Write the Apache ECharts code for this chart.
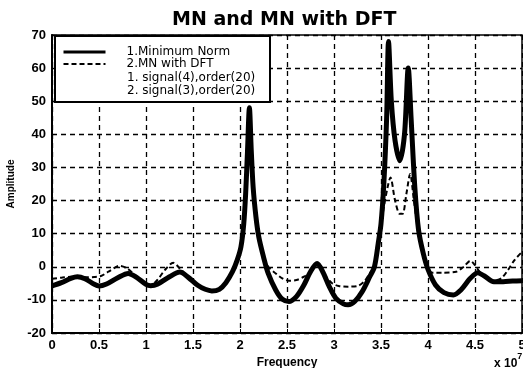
<!DOCTYPE html>
<html>
<head>
<meta charset="utf-8">
<script src="https://cdn.jsdelivr.net/npm/echarts@6/dist/echarts.min.js"></script>
<style>
  html, body { margin: 0; padding: 0; background: #fff; }
  #main { width: 523px; height: 368px; }
</style>
</head>
<body>
<div id="main"></div>
<script>
// frequency in units of 1e7
const mnFreq = [0, 0.1, 0.2, 0.27, 0.35, 0.45, 0.5, 0.58, 0.7, 0.81, 0.9, 1.0, 1.05, 1.12, 1.25, 1.36, 1.45, 1.55, 1.63, 1.7, 1.78, 1.85, 1.92, 1.97, 2.01, 2.04, 2.06, 2.08, 2.1, 2.12, 2.14, 2.17, 2.2, 2.25, 2.3, 2.38, 2.45, 2.52, 2.6, 2.68, 2.75, 2.82, 2.88, 2.95, 3.02, 3.1, 3.15, 3.22, 3.3, 3.38, 3.43, 3.47, 3.5, 3.53, 3.56, 3.58, 3.61, 3.65, 3.7, 3.75, 3.79, 3.82, 3.86, 3.9, 3.95, 4.0, 4.08, 4.17, 4.27, 4.35, 4.45, 4.53, 4.6, 4.7, 4.8, 4.9, 5.0];
const mnAmp = [-5.8, -4.8, -3.5, -3, -3.6, -5.3, -5.8, -5.2, -3.3, -2, -3.2, -5.3, -5.7, -5.3, -3, -1.6, -3.2, -5.6, -6.8, -7.3, -6.8, -4.8, -1.5, 2, 6, 13, 22, 35, 48, 35, 24, 15, 9, 3, -2, -7, -9.8, -10.5, -9, -5.5, -1.5, 1, -1.5, -6, -9.5, -11.2, -11.5, -10.5, -7.5, -3, 0, 7, 13, 25, 45, 68, 50, 38, 32, 40, 60, 45, 24, 11, 4, -0.8, -5.5, -7.8, -8.5, -7, -3.5, -1.8, -2.8, -4.5, -4.5, -4.3, -4.2];

const dftFreq = [0, 0.1, 0.2, 0.27, 0.35, 0.45, 0.52, 0.6, 0.72, 0.8, 0.9, 1.0, 1.05, 1.12, 1.2, 1.29, 1.36, 1.45, 1.55, 1.63, 1.7, 1.78, 1.85, 1.92, 1.97, 2.01, 2.04, 2.06, 2.08, 2.1, 2.12, 2.14, 2.17, 2.2, 2.25, 2.3, 2.38, 2.45, 2.52, 2.6, 2.68, 2.75, 2.82, 2.9, 2.98, 3.05, 3.15, 3.25, 3.32, 3.38, 3.43, 3.47, 3.5, 3.53, 3.57, 3.6, 3.65, 3.7, 3.73, 3.77, 3.81, 3.85, 3.9, 3.95, 4.0, 4.05, 4.15, 4.3, 4.38, 4.45, 4.5, 4.55, 4.62, 4.7, 4.78, 4.85, 4.92, 5.0];
const dftAmp = [-3.6, -3.3, -3, -3, -3.2, -3.1, -2.8, -1.5, 0.3, -0.5, -3, -5, -5.5, -4, -1, 1.2, -0.5, -3.2, -5.6, -6.8, -7.3, -6.8, -4.8, -1.5, 2, 6, 13, 21, 32, 42, 33, 23, 15, 9, 3, 0, -2, -3.5, -4.2, -4, -3, -1.5, 0.5, -2.5, -5, -5.8, -6, -5.8, -4.5, -2, 0, 7, 12, 18, 24, 27, 20, 16, 16, 22, 28, 20, 10, 3, -1, -1.8, -1.8, -1.5, 0, 1.8, 0.5, -1.5, -3, -4.2, -3.5, -1, 2, 4.5];

const xTicks = [0, 5, 0.5];   // min, max, step
const yTicks = [-20, 70, 10];

const chart = echarts.init(document.getElementById('main'));

const zip = (xs, ys) => xs.map((x, i) => [x, ys[i]]);

const gridLine = { show: true, lineStyle: { color: '#000', width: 1.3, type: [5, 4] } };
const tickFont = { color: '#000', fontFamily: 'Liberation Sans', fontWeight: 'bold', fontSize: 13 };

chart.setOption({
  animation: false,
  backgroundColor: '#fff',
  title: {
    text: 'MN and MN with DFT',
    left: 172,
    top: 11,
    padding: 0,
    textStyle: { fontFamily: 'DejaVu Sans', fontWeight: 'bold', fontSize: 19, color: '#000' }
  },
  grid: {
    left: 52, right: 1, top: 35, bottom: 35,
    outerBoundsMode: 'none',
    show: true, borderColor: '#000', borderWidth: 1.5
  },
  legend: {
    orient: 'vertical',
    left: 62, top: 46,
    padding: 0,
    z: 70,
    itemWidth: 42, itemHeight: 12, itemGap: 0,
    itemStyle: { opacity: 0 },
    textStyle: { fontFamily: 'DejaVu Sans', fontSize: 12, lineHeight: 12, color: '#000', padding: [0, 0, 0, 16] },
    data: [
      { name: '1.Minimum Norm', lineStyle: { width: 3 } },
      { name: '2.MN with DFT', lineStyle: { width: 2 } }
    ]
  },
  xAxis: {
    type: 'value',
    min: xTicks[0], max: xTicks[1], interval: xTicks[2],
    name: 'Frequency', nameLocation: 'middle', nameGap: 20,
    nameTextStyle: { fontFamily: 'Liberation Sans', fontWeight: 'bold', fontSize: 12, color: '#000' },
    axisLine: { onZero: false, lineStyle: { color: '#000', width: 2 } },
    axisTick: { inside: true, length: 4, lineStyle: { color: '#000' } },
    axisLabel: Object.assign({ margin: 6, formatter: v => String(v) }, tickFont),
    splitLine: gridLine
  },
  yAxis: {
    type: 'value',
    min: yTicks[0], max: yTicks[1], interval: yTicks[2],
    name: 'Amplitude', nameLocation: 'middle', nameGap: 33,
    nameTextStyle: { fontFamily: 'Liberation Sans', fontWeight: 'bold', fontSize: 10, color: '#000' },
    axisLine: { show: true, onZero: false, lineStyle: { color: '#000', width: 2 } },
    axisTick: { show: true, inside: true, length: 4, lineStyle: { color: '#000' } },
    axisLabel: Object.assign({ margin: 6 }, tickFont),
    splitLine: gridLine
  },
  graphic: [
    {
      type: 'rect', z: 50,
      shape: { x: 55, y: 36, width: 215, height: 66 },
      style: { fill: '#fff', stroke: '#000', lineWidth: 2 }
    },
    {
      type: 'text', z: 60, left: 127, top: 71,
      style: { text: '1. signal(4),order(20)\n2. signal(3),order(20)', fill: '#000',
               font: '12px "DejaVu Sans"', lineHeight: 13 }
    },
    {
      type: 'text', z: 60, left: 494, top: 352,
      style: {
        text: '{a|x 10}{s|7}',
        rich: {
          a: { fontFamily: 'Liberation Sans', fontWeight: 'bold', fontSize: 12, color: '#000', verticalAlign: 'bottom', padding: [6, 0, 0, 0] },
          s: { fontFamily: 'Liberation Sans', fontWeight: 'bold', fontSize: 9, color: '#000', verticalAlign: 'top' }
        }
      }
    }
  ],
  series: [
    {
      name: '2.MN with DFT',
      type: 'line',
      symbol: 'none',
      smooth: 0.3,
      z: 3,
      lineStyle: { color: '#000', width: 2, type: [5, 3] },
      itemStyle: { color: '#000' },
      data: zip(dftFreq, dftAmp)
    },
    {
      name: '1.Minimum Norm',
      type: 'line',
      symbol: 'none',
      smooth: 0.3,
      z: 4,
      lineStyle: { color: '#000', width: 5 },
      itemStyle: { color: '#000' },
      data: zip(mnFreq, mnAmp)
    }
  ]
});
</script>
</body>
</html>
